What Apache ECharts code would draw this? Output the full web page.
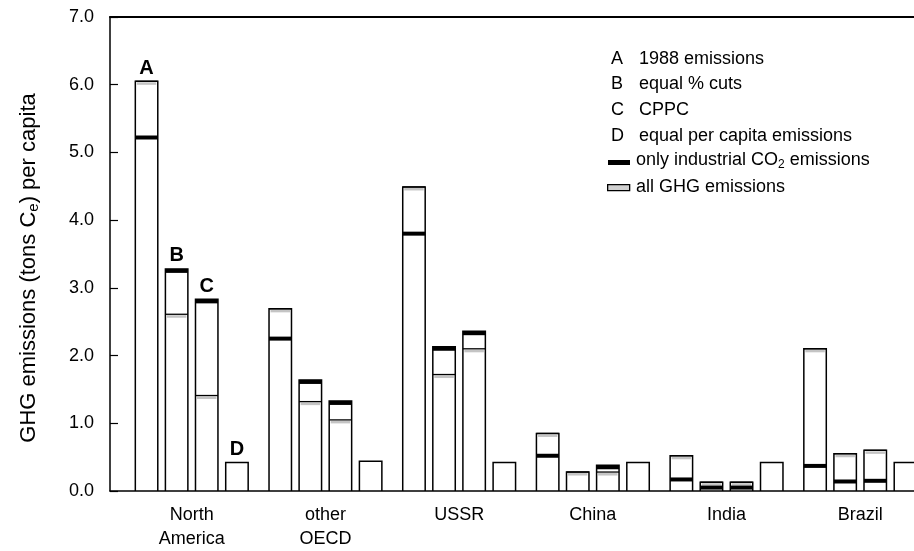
<!DOCTYPE html>
<html>
<head>
<meta charset="utf-8">
<script src="https://cdn.jsdelivr.net/npm/echarts@6/dist/echarts.min.js"></script>
<style>
  html, body { margin: 0; padding: 0; background: #fff; }
  #chart { width: 914px; height: 551px; }
</style>
</head>
<body>
<div id="chart"></div>
<script>
// regions on the x axis
var regions = ['North\nAmerica', 'other\nOECD', 'USSR', 'China', 'India', 'Brazil'];
var scenarios = ['A', 'B', 'C', 'D'];
var scenarioNames = ['1988 emissions', 'equal % cuts', 'CPPC', 'equal per capita emissions'];
var yTicks = [0, 1, 2, 3, 4, 5, 6, 7];

// all GHG emissions (tons Ce per capita)
var ghgA = [6.05, 2.69, 4.49, 0.85, 0.52, 2.10];
var ghgB = [2.61, 1.32, 1.72, 0.28, 0.13, 0.55];
var ghgC = [1.41, 1.05, 2.10, 0.28, 0.13, 0.60];
// only industrial CO2 emissions
var co2A = [5.25, 2.28, 3.83, 0.55, 0.20, 0.40];
var co2B = [3.28, 1.64, 2.13, null, 0.08, 0.17];
var co2C = [2.83, 1.33, 2.36, 0.38, 0.08, 0.18];
// equal per capita emissions
var equalD = [0.42, 0.44, 0.42, 0.42, 0.42, 0.42];

var barOffsets = [-0.338, -0.113, 0.112, 0.338];
var barWidth = 0.168;
var font = '"Liberation Sans", Arial, sans-serif';

var data = [];
for (var i = 0; i < regions.length; i++) {
    data.push([i, 0, ghgA[i], co2A[i]]);
    data.push([i, 1, ghgB[i], co2B[i]]);
    data.push([i, 2, ghgC[i], co2C[i]]);
    data.push([i, 3, equalD[i], null]);
}

function renderBar(params, api) {
    var i = api.value(0), s = api.value(1);
    var ghg = api.value(2), co2 = api.value(3);
    var hasCo2 = co2 != null && !isNaN(co2);
    var unit = api.size([1, 0])[0];
    var base = api.coord([i, 0]);
    var cx = base[0] + barOffsets[s] * unit;
    var w = barWidth * unit;
    var x0 = cx - w / 2;
    var yG = api.coord([i, ghg])[1];
    var yC = hasCo2 ? api.coord([i, co2])[1] : yG;
    var top = Math.min(yG, yC);
    var kids = [{
        type: 'rect',
        shape: { x: x0, y: top, width: w, height: base[1] - top },
        style: { fill: '#fff', stroke: '#000', lineWidth: 1.5 }
    }];
    if (s < 3) {
        // stippled top of the all-GHG bar
        kids.push({
            type: 'rect',
            shape: { x: x0 + 1.5, y: yG + 1, width: w - 3, height: 2.5 },
            style: { fill: '#c4c4c4' }
        });
        kids.push({
            type: 'line',
            shape: { x1: x0, y1: yG, x2: x0 + w, y2: yG },
            style: { stroke: '#000', lineWidth: 1.3 }
        });
    }
    if (hasCo2 && s < 3) {
        kids.push({
            type: 'rect',
            shape: { x: x0, y: yC, width: w, height: 4 },
            style: { fill: '#000' }
        });
    }
    if (i === 0) {
        kids.push({
            type: 'text',
            style: {
                text: scenarios[s], x: cx, y: top - 3,
                align: 'center', verticalAlign: 'bottom',
                font: 'bold 20px ' + font, fill: '#000'
            }
        });
    }
    return { type: 'group', children: kids };
}

// legend, upper right
var legendItems = [];
var ly = [59, 84.5, 110, 136, 162, 187];
var lfont = '18px ' + font;
for (var k = 0; k < scenarios.length; k++) {
    legendItems.push({
        type: 'text', left: 611, top: ly[k] - 9,
        style: { text: scenarios[k], font: lfont, fill: '#000' }
    });
    legendItems.push({
        type: 'text', left: 639, top: ly[k] - 9,
        style: { text: scenarioNames[k], font: lfont, fill: '#000' }
    });
}
legendItems.push({
    type: 'rect', left: 608, top: ly[4] - 2,
    shape: { width: 22, height: 5 }, style: { fill: '#000' }
});
legendItems.push({
    type: 'text', left: 636, top: ly[4] - 11,
    style: {
        text: 'only industrial CO{sub|2} emissions',
        font: lfont, fill: '#000',
        rich: { sub: { fontSize: 12, fontFamily: font, verticalAlign: 'bottom', padding: [10, 0, 0, 0] } }
    }
});
legendItems.push({
    type: 'rect', left: 607, top: ly[5] - 3,
    shape: { width: 22, height: 6 }, style: { fill: '#d0d0d0', stroke: '#000', lineWidth: 1.3 }
});
legendItems.push({
    type: 'text', left: 636, top: ly[5] - 9,
    style: { text: 'all GHG emissions', font: lfont, fill: '#000' }
});

var chart = echarts.init(document.getElementById('chart'));
var option = {
    backgroundColor: '#fff',
    animation: false,
    grid: { left: 110, right: 0, top: 17, bottom: 60 },
    xAxis: [{
        type: 'value',
        min: -0.6114,
        max: 5.402,
        axisLine: { onZero: false, lineStyle: { color: '#000', width: 1.5 } },
        axisTick: { show: false },
        splitLine: { show: false },
        axisLabel: {
            customValues: [0, 1, 2, 3, 4, 5],
            formatter: function (v) { return regions[Math.round(v)]; },
            color: '#000', fontFamily: font, fontSize: 18, lineHeight: 24, margin: 12
        }
    }, {
        type: 'value',
        position: 'top',
        min: -0.6114,
        max: 5.402,
        axisLine: { onZero: false, lineStyle: { color: '#000', width: 2 } },
        axisTick: { show: false },
        axisLabel: { show: false },
        splitLine: { show: false }
    }],
    yAxis: {
        type: 'value',
        min: yTicks[0],
        max: yTicks[yTicks.length - 1],
        interval: 1,
        axisLine: { show: true, onZero: false, lineStyle: { color: '#000', width: 1.5 } },
        axisTick: { show: true, inside: true, length: 8, lineStyle: { color: '#000', width: 1.2 } },
        splitLine: { show: false },
        axisLabel: {
            formatter: function (v) { return v.toFixed(1); },
            color: '#000', fontFamily: font, fontSize: 18, margin: 16
        },
        name: 'GHG emissions (tons C{sub|e}) per capita',
        nameLocation: 'middle',
        nameGap: 69,
        nameRotate: 90,
        nameTextStyle: {
            color: '#000', fontFamily: font, fontSize: 22,
            padding: [0, 28, 0, 0],
            rich: { sub: { fontSize: 15, fontFamily: font, color: '#000', padding: [10, 0, 0, 0] } }
        }
    },
    series: [{
        type: 'custom',
        renderItem: renderBar,
        encode: { x: 0, y: [2, 3] },
        data: data,
        clip: true
    }],
    graphic: legendItems
};
chart.setOption(option);
</script>
</body>
</html>
